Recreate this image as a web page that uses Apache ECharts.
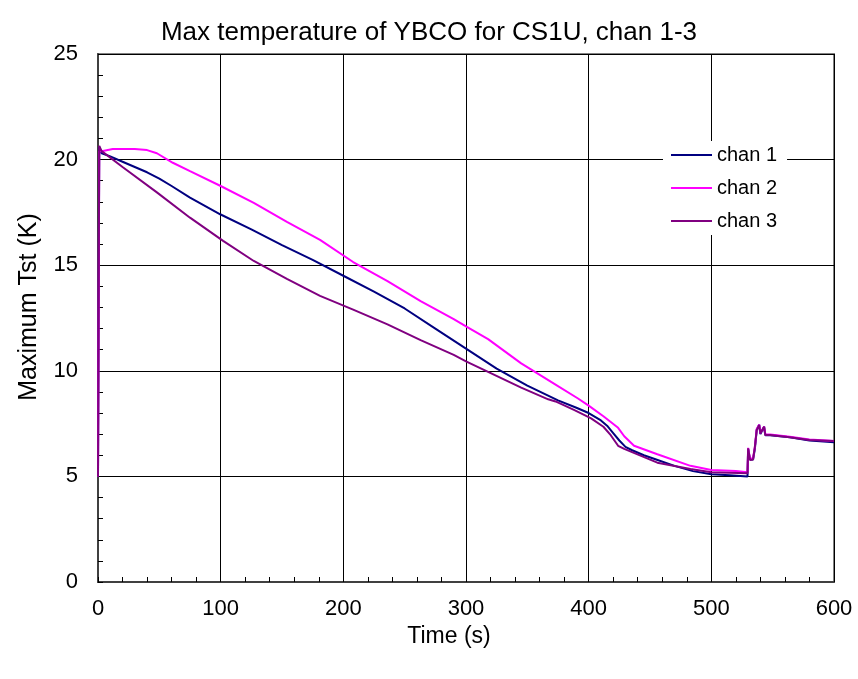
<!DOCTYPE html>
<html><head><meta charset="utf-8">
<script src="https://cdn.jsdelivr.net/npm/echarts@6/dist/echarts.min.js"></script>
<style>html,body{margin:0;padding:0;background:#fff}#c{width:858px;height:679px}</style>
</head><body><div id="c"></div>
<script>
const titleText = "Max temperature of YBCO for CS1U, chan 1-3";
const xName = "Time (s)";
const yName = "Maximum Tst (K)";
const seriesNames = ["chan 1", "chan 2", "chan 3"];

const chan1Time = [0,1,3,10,20,30,40,50,60,75,100,125,150,175,200,225,250,275,300,325,350,375,390,400,410,415,420,425,430,435,445,455,470,485,500,515,529.5,530,531.5,534,535.5,537,539,540,543,544,548,564,580,600];
const chan1Temp = [5.0,20.6,20.3,20.15,19.9,19.65,19.4,19.1,18.75,18.2,17.4,16.7,15.95,15.25,14.5,13.75,12.95,12.0,11.05,10.1,9.3,8.6,8.25,8.0,7.65,7.4,7.05,6.7,6.4,6.25,6.0,5.8,5.5,5.25,5.1,5.05,5.0,6.3,5.8,5.8,6.3,7.2,7.45,7.0,7.35,6.95,6.95,6.85,6.7,6.62];

const chan2Time = [0,1,3,12,30,40,48,61,75,100,127,154,181,208,236,263,290,300,318,345,373,391,400,412,424,429,437,456,483,500,520,529.5,530,531.5,534,535.5,537,539,540,543,544,548,564,580,600];
const chan2Temp = [5.0,20.4,20.4,20.5,20.5,20.45,20.3,19.85,19.45,18.75,17.95,17.05,16.2,15.15,14.25,13.3,12.45,12.1,11.5,10.35,9.35,8.7,8.35,7.85,7.3,6.9,6.45,6.05,5.5,5.3,5.25,5.2,6.35,5.85,5.85,6.4,7.25,7.45,7.05,7.35,7.0,6.98,6.88,6.75,6.68];

const chan3Time = [0,1,3,20,48,75,102,127,154,181,208,236,263,290,300,318,345,367,373,388,402,412,418,424,429,456,483,500,529.5,530,531.5,534,535.5,537,539,540,543,544,548,564,580,600];
const chan3Temp = [5.0,20.65,20.4,19.65,18.45,17.25,16.15,15.2,14.35,13.55,12.9,12.2,11.45,10.75,10.45,9.95,9.2,8.65,8.55,8.15,7.75,7.35,6.95,6.45,6.3,5.65,5.35,5.2,5.15,6.33,5.78,5.8,6.4,7.2,7.43,7.04,7.35,6.96,6.96,6.85,6.72,6.68];

const colors = ["#000080", "#FF00FF", "#800080"];
const FONT = "'Liberation Sans', Arial, sans-serif";

function pairs(t, v) { return t.map((x, i) => [x, v[i]]); }
const allData = [pairs(chan1Time, chan1Temp), pairs(chan2Time, chan2Temp), pairs(chan3Time, chan3Temp)];

const chart = echarts.init(document.getElementById('c'), null, {renderer: 'canvas'});
chart.setOption({
  animation: false,
  backgroundColor: '#fff',
  title: {
    text: titleText, left: 'center', top: 15,
    textStyle: {fontFamily: FONT, fontSize: 26, fontWeight: 'normal', color: '#000'}
  },
  grid: {left: 98, right: 24, top: 54, bottom: 97, show: true, borderColor: '#808080', borderWidth: 2, backgroundColor: 'transparent'},
  legend: {
    orient: 'vertical', left: 663, top: 141,
    backgroundColor: '#fff', padding: [4, 10, 4, 8],
    itemWidth: 41, itemHeight: 14, itemGap: 13,
    textStyle: {fontFamily: FONT, fontSize: 20, color: '#000', lineHeight: 20},
    data: seriesNames.map(n => ({name: n, icon: 'path://M0,0 L41,0 L41,2 L0,2 Z'}))
  },
  xAxis: {
    type: 'value', min: 0, max: 600, interval: 100,
    name: xName, nameLocation: 'middle', nameGap: 42,
    nameTextStyle: {fontFamily: FONT, fontSize: 23, color: '#000', padding: [0, 34, 0, 0]},
    axisLine: {show: true, onZero: false, lineStyle: {color: '#404040', width: 2}},
    axisTick: {show: true, inside: true, length: 5, lineStyle: {color: '#000'}},
    minorTick: {show: true, splitNumber: 5, length: 5, lineStyle: {color: '#000'}},
    axisLabel: {fontFamily: FONT, fontSize: 22, color: '#000', margin: 16},
    splitLine: {show: true, lineStyle: {color: '#000', width: 1}}
  },
  yAxis: {
    type: 'value', min: 0, max: 25, interval: 5,
    name: yName, nameLocation: 'middle', nameGap: 56, nameRotate: 90,
    nameTextStyle: {fontFamily: FONT, fontSize: 25, color: '#000', padding: [0, 0, 0, 22]},
    axisLine: {show: true, onZero: false, lineStyle: {color: '#404040', width: 2}},
    axisTick: {show: true, inside: true, length: 5, lineStyle: {color: '#000'}},
    minorTick: {show: true, splitNumber: 5, length: 5, lineStyle: {color: '#000'}},
    axisLabel: {fontFamily: FONT, fontSize: 22, color: '#000', margin: 20},
    splitLine: {show: true, lineStyle: {color: '#000', width: 1}}
  },
  series: seriesNames.map((n, i) => ({
    name: n, type: 'line', data: allData[i],
    symbol: 'none', showSymbol: false,
    lineStyle: {color: colors[i], width: 2},
    itemStyle: {color: colors[i]},
    z: 2 + i
  }))
});
</script>
</body></html>
